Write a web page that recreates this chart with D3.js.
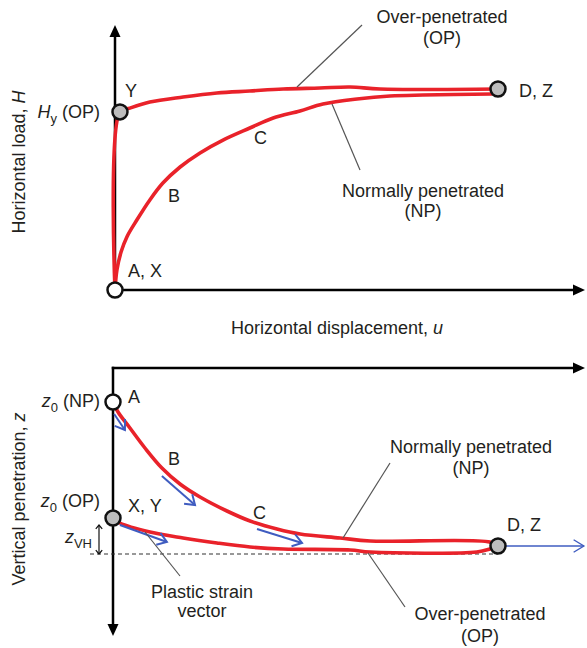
<!DOCTYPE html>
<html>
<head>
<meta charset="utf-8">
<script src="https://cdn.jsdelivr.net/npm/d3@7"></script>
<style>
  html, body { margin: 0; padding: 0; background: #fff; }
  svg { display: block; }
  text { font-family: "Liberation Sans", Arial, sans-serif; font-size: 18px; fill: #231f20; }
</style>
</head>
<body>
<svg id="chart" width="587" height="648"></svg>
<script>
// ---- Upper panel: horizontal load H against horizontal displacement u ----
const loadPathOP = [[0, 0], [0.13, 8.86], [0.39, 9.05], [0.91, 9.35], [1.78, 9.6], [2.66, 9.8],
  [3.52, 9.9], [4.39, 10.0], [5.35, 10.05], [6.14, 10.1], [6.92, 10.0], [10, 10]];
const loadPathNP = [[0, 0], [0.05, 1.0], [0.16, 1.9], [0.31, 2.64], [0.57, 3.48], [0.91, 4.48],
  [1.25, 5.32], [1.7, 6.12], [2.22, 6.82], [2.82, 7.46], [3.52, 8.06], [4.13, 8.56], [4.83, 8.91],
  [5.43, 9.25], [6.32, 9.5], [7.18, 9.65], [8.04, 9.7], [9.84, 9.75]];
const loadPoints = [
  { name: "A, X", u: 0, v: 0, fill: "#fff" },
  { name: "Y", u: 0.13, v: 8.86, fill: "#bdbdbd" },
  { name: "D, Z", u: 10, v: 10, fill: "#bdbdbd" }
];

// ---- Lower panel: vertical penetration z against horizontal displacement u ----
const penPathNP = [[0, 1.7], [0.13, 2.2], [0.44, 3.0], [0.83, 4.0], [1.27, 5.0], [1.74, 5.8],
  [2.26, 6.45], [2.96, 7.15], [3.56, 7.65], [4.26, 8.05], [4.86, 8.3], [5.9, 8.5], [6.68, 8.65],
  [9.79, 8.7], [10, 8.9]];
const penPathOP = [[0, 7.5], [0.18, 7.75], [0.96, 8.2], [1.82, 8.5], [2.7, 8.75], [3.56, 8.95],
  [4.42, 9.05], [6.16, 9.1], [6.68, 9.2], [9.45, 9.2], [9.79, 9.05], [10, 8.9]];
const penPoints = [
  { name: "A", u: 0, v: 1.7, fill: "#fff" },
  { name: "X, Y", u: 0, v: 7.5, fill: "#bdbdbd" },
  { name: "D, Z", u: 10, v: 8.9, fill: "#bdbdbd" }
];
// plastic strain vectors: [from, to] in (u, z)
const strainVectors = [
  [[0.03, 2.3], [0.31, 3.1]],
  [[1.27, 5.4], [2.13, 6.85]],
  [[3.74, 8.05], [4.91, 8.75]],
  [[0.18, 7.85], [1.4, 8.7]]
];
const finalVector = [[10, 8.9], [12.23, 8.9]];
const zOPLevel = 7.85;      // top of z_VH marker
const zLimit = 9.3;         // dashed limiting penetration

const svg = d3.select("#chart");
const RED = "#e9222a", BLUE = "#3f5cc0", GREY = "#555";
const RED_W = 3.6;

const xTop = d3.scaleLinear().domain([0, 10]).range([115, 498]);
const yTop = d3.scaleLinear().domain([0, 10]).range([290, 89]);
const xBot = d3.scaleLinear().domain([0, 10]).range([113, 498]);
const zBot = d3.scaleLinear().domain([0, 10]).range([368, 568]);

function filledHead(g, x, y, angle) {
  const L = 12, W = 5.5;
  const c = Math.cos(angle), s = Math.sin(angle);
  const pts = [[x, y], [x - L * c - W * s, y - L * s + W * c], [x - L * c + W * s, y - L * s - W * c]];
  g.append("path").attr("d", "M" + pts.map(p => p.join(",")).join("L") + "Z").attr("fill", "#000");
}
function openHead(g, x, y, angle, len, spread, color, width) {
  const a1 = angle + Math.PI - spread, a2 = angle + Math.PI + spread;
  g.append("path")
    .attr("d", `M${x + len * Math.cos(a1)},${y + len * Math.sin(a1)}L${x},${y}L${x + len * Math.cos(a2)},${y + len * Math.sin(a2)}`)
    .attr("fill", "none").attr("stroke", color).attr("stroke-width", width)
    .attr("stroke-linejoin", "miter");
}

// ---------- upper panel ----------
const upper = svg.append("g");
// axes
upper.append("line").attr("x1", xTop(0)).attr("y1", yTop(0)).attr("x2", xTop(0)).attr("y2", 36)
  .attr("stroke", "#000").attr("stroke-width", 2.5);
filledHead(upper, xTop(0), 25, -Math.PI / 2);
upper.append("line").attr("x1", xTop(0)).attr("y1", yTop(0)).attr("x2", 574).attr("y2", yTop(0))
  .attr("stroke", "#000").attr("stroke-width", 2.5);
filledHead(upper, 585, yTop(0), 0);

const lineTop = d3.line().x(d => xTop(d[0])).y(d => yTop(d[1])).curve(d3.curveCatmullRom.alpha(0.5));
upper.append("path").attr("d", lineTop(loadPathNP)).attr("fill", "none").attr("stroke", RED)
  .attr("stroke-width", RED_W).attr("stroke-linecap", "round");
upper.append("path").attr("d", lineTop(loadPathOP)).attr("fill", "none").attr("stroke", RED)
  .attr("stroke-width", RED_W).attr("stroke-linecap", "round");

upper.selectAll("circle.pt").data(loadPoints).join("circle")
  .attr("cx", d => xTop(d.u)).attr("cy", d => yTop(d.v)).attr("r", 7.5)
  .attr("fill", d => d.fill).attr("stroke", "#111").attr("stroke-width", 2.5);

// leader lines
upper.append("line").attr("x1", 362).attr("y1", 25).attr("x2", 297).attr("y2", 87)
  .attr("stroke", GREY).attr("stroke-width", 1.2);
upper.append("line").attr("x1", 360).attr("y1", 170).attr("x2", 332).attr("y2", 104)
  .attr("stroke", GREY).attr("stroke-width", 1.2);

// labels
upper.append("text").attr("x", 442).attr("y", 23).attr("text-anchor", "middle").text("Over-penetrated");
upper.append("text").attr("x", 442).attr("y", 44).attr("text-anchor", "middle").text("(OP)");
upper.append("text").attr("x", 423).attr("y", 197).attr("text-anchor", "middle").text("Normally penetrated");
upper.append("text").attr("x", 423).attr("y", 217).attr("text-anchor", "middle").text("(NP)");
upper.append("text").attr("x", 519).attr("y", 97).text("D, Z");
upper.append("text").attr("x", 125).attr("y", 97).text("Y");
upper.append("text").attr("x", 128).attr("y", 277).text("A, X");
upper.append("text").attr("x", 168).attr("y", 202).text("B");
upper.append("text").attr("x", 254).attr("y", 144).text("C");
const hy = upper.append("text").attr("x", 100).attr("y", 118).attr("text-anchor", "end");
hy.append("tspan").attr("font-style", "italic").text("H");
hy.append("tspan").attr("dy", 5).attr("font-size", 13).text("y");
hy.append("tspan").attr("dy", -5).text(" (OP)");
const hl = upper.append("text").attr("transform", "translate(25,162) rotate(-90)").attr("text-anchor", "middle");
hl.append("tspan").text("Horizontal load, ");
hl.append("tspan").attr("font-style", "italic").text("H");
const hd = svg.append("text").attr("x", 337).attr("y", 334).attr("text-anchor", "middle");
hd.append("tspan").text("Horizontal displacement, ");
hd.append("tspan").attr("font-style", "italic").text("u");

// ---------- lower panel ----------
const lower = svg.append("g");
lower.append("line").attr("x1", xBot(0)).attr("y1", zBot(0)).attr("x2", 574).attr("y2", zBot(0))
  .attr("stroke", "#000").attr("stroke-width", 2.5).attr("stroke-linecap", "square");
filledHead(lower, 585, zBot(0), 0);
lower.append("line").attr("x1", xBot(0)).attr("y1", zBot(0)).attr("x2", xBot(0)).attr("y2", 625)
  .attr("stroke", "#000").attr("stroke-width", 2.5).attr("stroke-linecap", "square");
filledHead(lower, xBot(0), 636, Math.PI / 2);

// limiting penetration
lower.append("line").attr("x1", 90).attr("y1", zBot(zLimit)).attr("x2", xBot(10)).attr("y2", zBot(zLimit))
  .attr("stroke", "#333").attr("stroke-width", 1.2).attr("stroke-dasharray", "4,3");

const lineBot = d3.line().x(d => xBot(d[0])).y(d => zBot(d[1])).curve(d3.curveCatmullRom.alpha(0.5));
lower.append("path").attr("d", lineBot(penPathNP)).attr("fill", "none").attr("stroke", RED)
  .attr("stroke-width", RED_W).attr("stroke-linecap", "round");
lower.append("path").attr("d", lineBot(penPathOP)).attr("fill", "none").attr("stroke", RED)
  .attr("stroke-width", RED_W).attr("stroke-linecap", "round");

// plastic strain vectors
strainVectors.forEach(([a, b]) => {
  const x1 = xBot(a[0]), y1 = zBot(a[1]), x2 = xBot(b[0]), y2 = zBot(b[1]);
  lower.append("line").attr("x1", x1).attr("y1", y1).attr("x2", x2).attr("y2", y2)
    .attr("stroke", BLUE).attr("stroke-width", 2);
  openHead(lower, x2, y2, Math.atan2(y2 - y1, x2 - x1), 11, 0.6, BLUE, 2);
});
{
  const [a, b] = finalVector;
  const x1 = xBot(a[0]), y1 = zBot(a[1]), x2 = xBot(b[0]), y2 = zBot(b[1]);
  lower.append("line").attr("x1", x1).attr("y1", y1).attr("x2", x2).attr("y2", y2)
    .attr("stroke", BLUE).attr("stroke-width", 1.4);
  openHead(lower, x2, y2, 0, 12, 0.55, BLUE, 1.4);
}

lower.selectAll("circle.pt").data(penPoints).join("circle")
  .attr("cx", d => xBot(d.u)).attr("cy", d => zBot(d.v)).attr("r", 7.5)
  .attr("fill", d => d.fill).attr("stroke", "#111").attr("stroke-width", 2.5);

// z_VH marker
{
  const x = 99, y1 = zBot(zOPLevel), y2 = zBot(zLimit);
  lower.append("line").attr("x1", x).attr("y1", y1).attr("x2", x).attr("y2", y2)
    .attr("stroke", "#111").attr("stroke-width", 1.2);
  openHead(lower, x, y1, -Math.PI / 2, 5, 0.7, "#111", 1.2);
  openHead(lower, x, y2, Math.PI / 2, 5, 0.7, "#111", 1.2);
}

// leader lines
lower.append("line").attr("x1", 145).attr("y1", 532).attr("x2", 180).attr("y2", 576)
  .attr("stroke", GREY).attr("stroke-width", 1.2);
lower.append("line").attr("x1", 390).attr("y1", 463).attr("x2", 343).attr("y2", 538)
  .attr("stroke", GREY).attr("stroke-width", 1.2);
lower.append("line").attr("x1", 368).attr("y1", 553).attr("x2", 405).attr("y2", 607)
  .attr("stroke", GREY).attr("stroke-width", 1.2);

// labels
function subLabel(g, x, y, main, sub, rest, anchor) {
  const t = g.append("text").attr("x", x).attr("y", y).attr("text-anchor", anchor);
  t.append("tspan").attr("font-style", "italic").text(main);
  t.append("tspan").attr("dy", 5).attr("font-size", 13).text(sub);
  if (rest) t.append("tspan").attr("dy", -5).text(rest);
  return t;
}
subLabel(lower, 100, 407, "z", "0", " (NP)", "end");
subLabel(lower, 100, 507, "z", "0", " (OP)", "end");
subLabel(lower, 92, 543, "z", "VH", null, "end");
lower.append("text").attr("x", 128).attr("y", 403).text("A");
lower.append("text").attr("x", 168).attr("y", 465).text("B");
lower.append("text").attr("x", 253).attr("y", 519).text("C");
lower.append("text").attr("x", 128).attr("y", 512).text("X, Y");
lower.append("text").attr("x", 507).attr("y", 531).text("D, Z");
lower.append("text").attr("x", 202).attr("y", 598).attr("text-anchor", "middle").text("Plastic strain");
lower.append("text").attr("x", 202).attr("y", 617).attr("text-anchor", "middle").text("vector");
lower.append("text").attr("x", 471).attr("y", 453).attr("text-anchor", "middle").text("Normally penetrated");
lower.append("text").attr("x", 471).attr("y", 474).attr("text-anchor", "middle").text("(NP)");
lower.append("text").attr("x", 480).attr("y", 620).attr("text-anchor", "middle").text("Over-penetrated");
lower.append("text").attr("x", 480).attr("y", 642).attr("text-anchor", "middle").text("(OP)");
const vp = lower.append("text").attr("transform", "translate(25,499) rotate(-90)").attr("text-anchor", "middle");
vp.append("tspan").text("Vertical penetration, ");
vp.append("tspan").attr("font-style", "italic").text("z");
</script>
</body>
</html>
